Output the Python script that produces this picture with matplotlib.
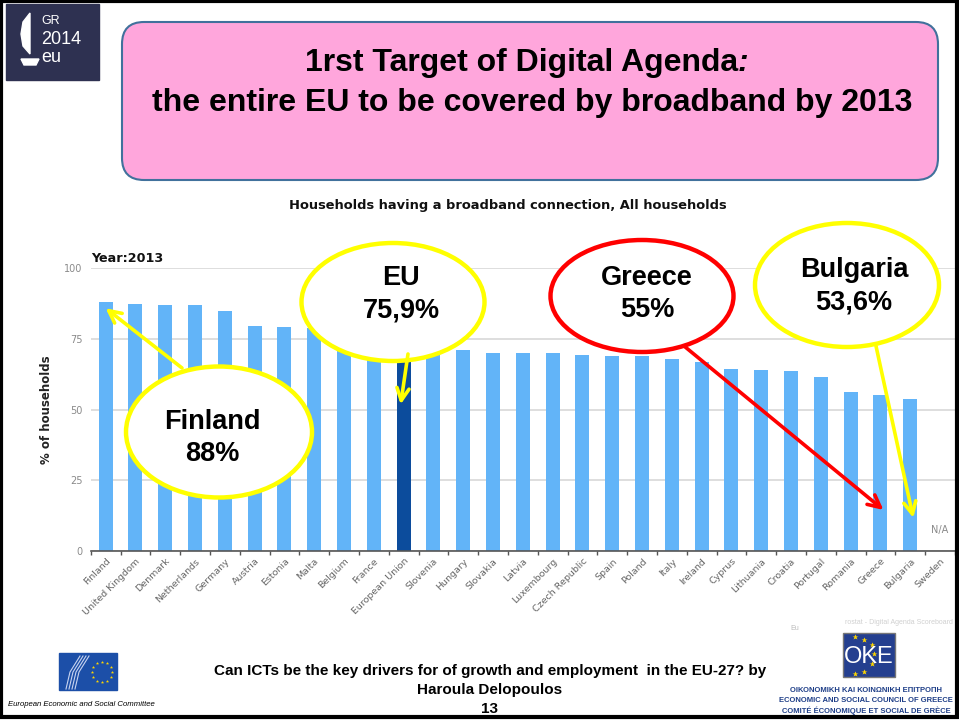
import numpy as np
import matplotlib.pyplot as plt
from matplotlib.patches import Ellipse, FancyBboxPatch, Rectangle, Polygon

# data
countries = ["Finland", "United Kingdom", "Denmark", "Netherlands", "Germany", "Austria",
             "Estonia", "Malta", "Belgium", "France", "European Union", "Slovenia", "Hungary",
             "Slovakia", "Latvia", "Luxembourg", "Czech Republic", "Spain", "Poland", "Italy",
             "Ireland", "Cyprus", "Lithuania", "Croatia", "Portugal", "Romania", "Greece",
             "Bulgaria", "Sweden"]
values = [88.0, 87.2, 86.9, 86.9, 84.8, 79.5, 79.1, 78.8, 77.0, 76.2, 75.9, 74.0, 71.0,
          69.8, 69.8, 69.8, 69.1, 68.9, 68.9, 67.7, 66.8, 64.3, 63.9, 63.6, 61.5, 56.1, 55.1,
          53.6, np.nan]
y_ticks = [0, 25, 50, 75, 100]
highlight = "European Union"

W, H = 959, 720
fig = plt.figure(figsize=(W / 100, H / 100), dpi=100)
fig.patch.set_facecolor("white")

# ---- chart axes
ax = fig.add_axes([90.7 / W, (H - 551) / H, (955 - 90.7) / W, (551 - 268) / H])
x = np.arange(len(countries))
colors = ["#0c4c9c" if c == highlight else "#62b4f8" for c in countries]
ax.bar(x, values, width=0.47, color=colors, zorder=2)
ax.set_xlim(-0.5, len(countries) - 0.5)
ax.set_ylim(0, 100)
ax.set_yticks(y_ticks)
ax.set_yticklabels([str(v) for v in y_ticks], color="#8a8a8a", fontsize=7, family="DejaVu Sans")
ax.tick_params(axis="y", length=0, pad=6)
ax.grid(axis="y", color="#d8d8d8", lw=1.2, zorder=0)
ax.set_xticks(x)
ax.set_xticklabels(countries, rotation=45, ha="right", rotation_mode="anchor",
                   fontsize=6.8, color="#666666", family="DejaVu Sans")
ax.tick_params(axis="x", length=0, pad=4)
ax.set_xticks(np.arange(-0.5, len(countries)), minor=True)
ax.tick_params(axis="x", which="minor", length=3, width=1, color="#555555", direction="out")
for s in ["top", "right", "left"]:
    ax.spines[s].set_visible(False)
ax.spines["bottom"].set_color("#555555")
ax.spines["bottom"].set_linewidth(1.2)
ax.set_ylabel("% of households", fontsize=8.5, fontweight="bold", family="DejaVu Sans",
              color="#222222", labelpad=8)
ax.text(len(countries) - 1, 7.4, "N/A", ha="center", va="center", fontsize=7,
        color="#8a8a8a", family="DejaVu Sans")

# ---- overlay in pixel coordinates for slide decorations
ov = fig.add_axes([0, 0, 1, 1], zorder=5)
ov.set_xlim(0, W)
ov.set_ylim(H, 0)
ov.axis("off")

# slide frame
ov.add_patch(Rectangle((1, 1), W - 3, H - 4, fill=False, ec="black", lw=3))

# GR2014 logo
ov.add_patch(Rectangle((6, 4), 93, 76, color="#2e3151"))
ov.add_patch(Polygon([(30, 13), (23, 22), (21, 34), (23, 46), (30, 54)], closed=True, color="white"))
ov.add_patch(Polygon([(21, 59), (39, 59), (36, 65), (24, 65)], closed=True, color="white"))
sans = ["Liberation Sans", "DejaVu Sans"]
ov.text(41, 21, "GR", color="white", fontsize=9, family=sans, va="center")
ov.text(41, 40, "2014", color="white", fontsize=13, family=sans, va="center")
ov.text(41, 58, "eu", color="white", fontsize=13, family=sans, va="center")

# title box
ov.add_patch(FancyBboxPatch((122, 22), 816, 158, boxstyle="round,pad=0,rounding_size=22",
                            fc="#ffa6dc", ec="#41719c", lw=1.5))
ov.text(738, 63, "1rst Target of Digital Agenda", ha="right", va="center", fontsize=23,
        fontweight="bold", family=sans)
ov.text(738, 63, ":", ha="left", va="center", fontsize=23, fontweight="bold",
        style="italic", family=sans)
ov.text(532, 103, "the entire EU to be covered by broadband by 2013", ha="center", va="center",
        fontsize=23, fontweight="bold", family=sans)

# chart titles
ov.text(508, 205, "Households having a broadband connection, All households", ha="center",
        va="center", fontsize=9.4, fontweight="bold", family="DejaVu Sans", color="#111111")
ov.text(91, 258, "Year:2013", ha="left", va="center", fontsize=9.2, fontweight="bold",
        family="DejaVu Sans", color="#111111")

# callout ellipses: centre, size, colour, text, text centre
callouts = [
    ((219, 432), 186, 131, "#ffff00", "Finland\n88%", (212, 438)),
    ((393, 302), 183, 118, "#ffff00", "EU\n75,9%", (401, 294)),
    ((642, 296), 183, 112, "#ff0000", "Greece\n55%", (647, 294)),
    ((847, 285), 184, 124, "#ffff00", "Bulgaria\n53,6%", (854, 286)),
]
for (cx, cy), w, h, ec, label, (tx, ty) in callouts:
    ov.add_patch(Ellipse((cx, cy), w, h, fc="white", ec=ec, lw=3.2))
    ov.text(tx, ty, label, ha="center", va="center", fontsize=19.5, fontweight="bold",
            family=sans, linespacing=1.3)

# arrows: tail in pixels, tip on the bars
arrows = [
    ((182, 368), (0, 85.8), "#ffff00"),
    ((408, 354), (9.9, 51.8), "#ffff00"),
    ((684, 346), (26.1, 14.5), "#ff0000"),
    ((876, 346), (27.1, 11.7), "#ffff00"),
]
for tail, tip, c in arrows:
    ov.annotate("", xy=tip, xycoords=ax.transData, xytext=tail, textcoords=ov.transData,
                arrowprops=dict(arrowstyle="->", color=c, lw=2.6, mutation_scale=22,
                                shrinkA=0, shrinkB=0))

# faint source line
ov.text(790, 628, "Eu", fontsize=5, color="#bbbbbb", family=sans, va="center")
ov.text(845, 623, "rostat - Digital Agenda Scoreboard", fontsize=5, color="#d0d0d0",
        family=sans, va="center")

# EESC logo
ov.add_patch(Rectangle((59, 653), 58, 37, color="#1c4fa8"))
for k in range(4):
    ov.plot([66 + 3 * k, 70 + 3 * k, 80 + 3 * k], [689, 672, 656], color="#c8d4f0", lw=0.8)
for a in np.linspace(0, 2 * np.pi, 12, endpoint=False):
    ov.plot(102 + 10 * np.cos(a), 672 + 10 * np.sin(a), marker="*", ms=2.5, color="#ffd700", mec="none")
ov.text(8, 705, "European Economic and Social Committee", fontsize=5.6, style="italic",
        family=sans, va="center")

# footer text
ov.text(490, 671, "Can ICTs be the key drivers for of growth and employment  in the EU-27? by",
        ha="center", va="center", fontsize=11, fontweight="bold", family=sans)
ov.text(490, 690, "Haroula Delopoulos", ha="center", va="center", fontsize=11,
        fontweight="bold", family=sans)
ov.text(490, 709, "13", ha="center", va="center", fontsize=11, fontweight="bold", family=sans)

# OKE logo
ov.add_patch(Rectangle((843, 633), 52, 44, fc="#243f8f", ec="#777777", lw=1))
ov.text(869, 657, "OKE", ha="center", va="center", fontsize=17, color="white",
        family=sans)
for sx, sy in [(855, 637), (864, 640), (872, 645), (874, 654), (872, 664), (864, 672), (855, 674)]:
    ov.plot(sx, sy, marker="*", ms=4, color="#ffd700", mec="none")
oke_lines = ["ΟΙΚΟΝΟΜΙΚΗ ΚΑΙ ΚΟΙΝΩΝΙΚΗ ΕΠΙΤΡΟΠΗ", "ECONOMIC AND SOCIAL COUNCIL OF GREECE",
             "COMITÉ ÉCONOMIQUE ET SOCIAL DE GRÈCE"]
for i, t in enumerate(oke_lines):
    ov.text(866, 690 + 10.5 * i, t, ha="center", va="center", fontsize=5.5, fontweight="bold",
            color="#1f3f88", family=sans)

fig.savefig("out.png", dpi=100)
